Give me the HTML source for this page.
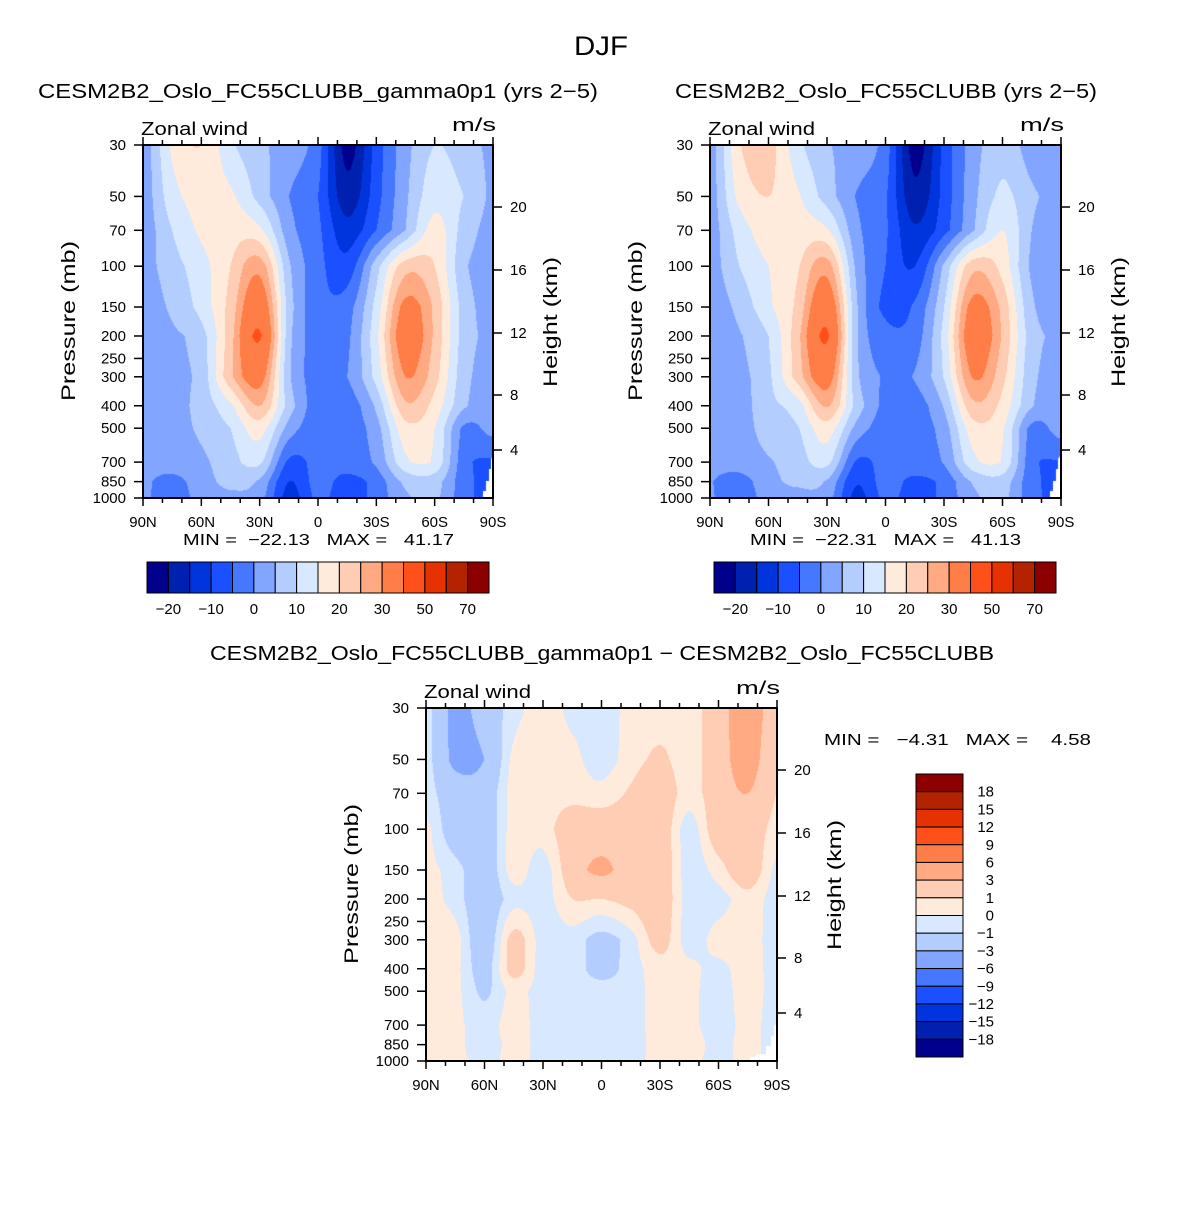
<!DOCTYPE html>
<html><head><meta charset="utf-8"><title>DJF Zonal wind</title>
<style>
body{margin:0;background:#fff}
#wrap{position:relative;width:1204px;height:1206px;overflow:hidden;background:#fff}
canvas{position:absolute}
svg text{font-family:"Liberation Sans",sans-serif;fill:#000}
</style></head>
<body>
<div id="wrap">
<canvas id="cL" width="350" height="353" style="left:143px;top:145px"></canvas>
<canvas id="cR" width="351" height="353" style="left:710px;top:145px"></canvas>
<canvas id="cD" width="351" height="353" style="left:426px;top:708px"></canvas>
<svg id="ov" width="1204" height="1206" style="position:absolute;left:0;top:0">
<text x="601" y="55" font-size="27" text-anchor="middle" textLength="54" lengthAdjust="spacingAndGlyphs">DJF</text>
<text x="38" y="98" font-size="20" textLength="560" lengthAdjust="spacingAndGlyphs">CESM2B2_Oslo_FC55CLUBB_gamma0p1 (yrs 2−5)</text>
<text x="675" y="98" font-size="20" textLength="422" lengthAdjust="spacingAndGlyphs">CESM2B2_Oslo_FC55CLUBB (yrs 2−5)</text>
<text x="210" y="660" font-size="20" textLength="784" lengthAdjust="spacingAndGlyphs">CESM2B2_Oslo_FC55CLUBB_gamma0p1 − CESM2B2_Oslo_FC55CLUBB</text>
<text x="183" y="545" font-size="16" textLength="271" lengthAdjust="spacingAndGlyphs" xml:space="preserve">MIN =  −22.13   MAX =   41.17</text>
<text x="750" y="545" font-size="16" textLength="271" lengthAdjust="spacingAndGlyphs" xml:space="preserve">MIN =  −22.31   MAX =   41.13</text>
<text x="824" y="745" font-size="16" textLength="267" lengthAdjust="spacingAndGlyphs" xml:space="preserve">MIN =   −4.31   MAX =    4.58</text>
</svg>
</div>
<script>
const pLevels=[30,50,70,100,150,200,300,400,500,700,850,1000];
const latLabels=['90N','60N','30N','0','30S','60S','90S'];
const pLabels=[30,50,70,100,150,200,250,300,400,500,700,850,1000];
const hLabels=['20','16','12','8','4'];
const topLevels=[-20,-15,-10,-5,0,5,10,15,20,25,30,40,50,60,70];
const topLevelLabels=['−20','−10','0','10','20','30','50','70'];
const diffLevels=[-18,-15,-12,-9,-6,-3,-1,0,1,3,6,9,12,15,18];
const diffLevelLabels=['18','15','12','9','6','3','1','0','−1','−3','−6','−9','−12','−15','−18'];
const colors=['#00008c','#0020b0','#0034dc','#1a50ff','#4678ff','#82a5ff','#b4cdff','#d7e8ff','#ffebdc','#ffcdb4','#ffaa82','#ff7d46','#ff5019','#e63200','#b42300','#8c0000'];
// rows = pressure levels, cols = 90N..90S every 15 deg
const leftU=[
[2,16,20,11,6,3,-3,-22,-8,3,10,7,4],
[2,13,17,16,8,0,-5,-18,-7,4,13,10,4],
[2,10,16,18,16,2,-4,-13,-5,5,17,8,3],
[3,8,13,20,28,6,-3,-8,8,23,20,6,3],
[2,6,12,22,36,8,-3,-2,12,32,24,8,3],
[2,4,8,23,41,7,-2,-1,14,35,24,8,4],
[2,4,7,24,33,6,-2,0,12,30,22,7,3],
[2,3,7,14,25,8,-3,-3,6,24,18,6,2],
[2,3,6,10,17,3,-3,-3,3,18,15,-1,2],
[2,3,4,8,11,-6,-3,-2,1,14,14,-3,-6],
[1,-2,3,6,4,-10,-3,-7,-3,6,7,-3,-7],
[1,-3,2,4,2,-12,-4,-8,-3,4,6,-3,-7]];
const rightU=[
[2.5,19.5,22,11.5,5.5,3.3,-2.5,-22.3,-8.5,2.5,8,2.5,2.5],
[2.5,16.5,20,15.7,7.5,-0.3,-4.5,-18.5,-8.2,3.5,11,6,3],
[2.5,12,18,17.5,15.5,1.5,-4.3,-14.2,-7,4.5,15,5,2],
[2.7,10,15,19.5,27.5,4,-5,-10,6,23.5,18,4,2.5],
[1.7,6.5,14,21.5,36.5,6,-6.5,-4,10,32.5,23.5,6,3.3],
[1.5,4.5,10,23.5,41.1,6,-3,-2.5,12,35.5,24.5,7.5,4.5],
[1.2,3.5,9,22.5,33.5,6.5,-0.5,0.5,10.5,30.5,21.5,6.5,3.5],
[1.2,2.7,8.5,12.5,25.5,8.5,-1.5,-2.5,5.5,23.7,18.3,5.5,2.5],
[1.2,2.7,7.2,9.7,17.5,3.5,-2.5,-2.5,2.5,17.7,15.5,-1.5,2.5],
[1.2,2.7,4.5,7.5,11.5,-5.5,-2.7,-1.5,0.5,13.7,14.5,-3.3,-5.5],
[0.2,-2.3,3.5,5.7,4.3,-9.5,-2.7,-6.5,-3.5,5.5,7.3,-3.3,-6.5],
[0.5,-3.3,2.3,3.7,2.3,-11.5,-3.7,-7.5,-3.5,3.7,6.3,-3.3,-6.5]];
const diffU=[
[-0.5,-3.5,-2,-0.5,0.5,-0.3,-0.5,0.3,0.5,0.5,2,4.5,1.5],
[-0.5,-3.5,-3,0.3,0.5,0.3,-0.5,0.5,1.2,0.5,2,4,1],
[-0.5,-2,-2,0.5,0.5,0.5,0.3,1.2,2,0.5,2,3,1],
[0.3,-2,-2,0.5,0.5,2,2,2,2,-0.5,2,2,0.5],
[0.3,-0.5,-2,0.5,-0.5,2,3.5,2,2,-0.5,0.5,2,-0.3],
[0.5,-0.5,-2,-0.5,-0.5,1,1,1.5,2,-0.5,-0.5,0.5,-0.5],
[0.8,0.5,-2,1.5,-0.5,-0.5,-1.5,-0.5,1.5,-0.5,0.5,0.5,-0.5],
[0.8,0.3,-1.5,1.5,-0.5,-0.5,-1.5,-0.5,0.5,0.3,-0.3,0.5,-0.5],
[0.8,0.3,-1.2,0.3,-0.5,-0.5,-0.5,-0.5,0.5,0.3,-0.5,0.5,-0.5],
[0.8,0.3,-0.5,0.5,-0.5,-0.5,-0.3,-0.5,0.5,0.3,-0.5,0.3,-0.5],
[0.8,0.3,-0.5,0.3,-0.3,-0.5,-0.3,-0.5,0.5,0.5,-0.3,0.3,-0.5],
[0.5,0.3,-0.3,0.3,-0.3,-0.5,-0.3,-0.5,0.5,0.3,-0.3,0.3,-0.5]];

const NS='http://www.w3.org/2000/svg';
const ov=document.getElementById('ov');
const L0=Math.log(30),L1=Math.log(1000);
function yOfP(p,H){return (Math.log(p)-L0)/(L1-L0)*H;}
function hexRgb(h){return [parseInt(h.substr(1,2),16),parseInt(h.substr(3,2),16),parseInt(h.substr(5,2),16)];}
const rgb=colors.map(hexRgb);
function cr(p0,p1,p2,p3,s){return 0.5*(2*p1+(-p0+p2)*s+(2*p0-5*p1+4*p2-p3)*s*s+(-p0+3*p1-3*p2+p3)*s*s*s);}
function classOf(v,levels){let i=0;while(i<levels.length&&v>=levels[i])i++;return i;}
function drawField(cv,data,levels,mask){
  const W=cv.width,H=cv.height,ctx=cv.getContext('2d');
  const img=ctx.createImageData(W,H);
  const n=data[0].length-1;
  const rows=data.map(r=>{const a=new Float32Array(W);
    for(let x=0;x<W;x++){let fi=(x+0.5)/W*n;let i=Math.min(Math.floor(fi),n-1);let s=fi-i;
      a[x]=cr(r[Math.max(i-1,0)],r[i],r[i+1],r[Math.min(i+2,n)],s);}return a;});
  const lp=pLevels.map(Math.log);
  for(let y=0;y<H;y++){
    const l=L0+(y+0.5)/H*(L1-L0);
    let k=0;while(k<lp.length-2&&l>lp[k+1])k++;
    const t=Math.max(0,Math.min(1,(l-lp[k])/(lp[k+1]-lp[k])));
    for(let x=0;x<W;x++){
      const v=rows[k][x]*(1-t)+rows[k+1][x]*t;
      const c=rgb[classOf(v,levels)];const o=(y*W+x)*4;
      img.data[o]=c[0];img.data[o+1]=c[1];img.data[o+2]=c[2];img.data[o+3]=255;}
  }
  ctx.putImageData(img,0,0);
  ctx.fillStyle='#fff';ctx.beginPath();
  mask.forEach((p,i)=>i?ctx.lineTo(p[0],p[1]):ctx.moveTo(p[0],p[1]));ctx.closePath();ctx.fill();
}
const topMask=[[340,353],[340,346],[343,346],[343,336],[346,336],[346,324],[348,324],[348,314],[351,310],[351,353]];
const diffMask=[[324,353],[324,349],[330,349],[330,346],[340,346],[340,338],[345,338],[345,328],[348,328],[348,318],[351,315],[351,353]];
drawField(document.getElementById('cL'),leftU,topLevels,topMask);
drawField(document.getElementById('cR'),rightU,topLevels,topMask);
drawField(document.getElementById('cD'),diffU,diffLevels,diffMask);

function mk(tag,attrs,parent){const e=document.createElementNS(NS,tag);for(const k in attrs)e.setAttribute(k,attrs[k]);(parent||ov).appendChild(e);return e;}
const hOffsets=[62,125,188,250,305];
function buildAxes(ox,oy,W,H,pre){
  const g=mk('g',{});
  
  
  for(let d=0;d<=180;d+=10){
    const x=ox+d/180*W;const len=(d%30===0)?8:5;
    const t1=mk('line',{x1:x,y1:oy,x2:x,y2:oy-len,stroke:'#000','stroke-width':1.5},g);
    
    
    const t2=mk('line',{x1:x,y1:oy+H,x2:x,y2:oy+H+len,stroke:'#000','stroke-width':1.5},g);
    
    
  }
  latLabels.forEach((lab,i)=>{
    const t=mk('text',{x:ox+i*30/180*W,y:oy+H+29,'font-size':15,'text-anchor':'middle'},g);t.textContent=lab;
    
    
  });
  pLabels.forEach(p=>{
    const y=oy+yOfP(p,H);
    const l=mk('line',{x1:ox-9,y1:y,x2:ox,y2:y,stroke:'#000','stroke-width':1.5},g);
    
    
    const t=mk('text',{x:ox-17,y:y+5,'font-size':15,'text-anchor':'end'},g);t.textContent=p;
    
    
  });
  hLabels.forEach((h,i)=>{
    const y=oy+hOffsets[i];
    const l=mk('line',{x1:ox+W,y1:y,x2:ox+W+9,y2:y,stroke:'#000','stroke-width':1.5},g);
    
    
    const t=mk('text',{x:ox+W+17,y:y+5,'font-size':15},g);t.textContent=h;
    
    
  });
  const b=mk('rect',{x:ox,y:oy,width:W,height:H,fill:'none',stroke:'#000','stroke-width':2},g);
  
  
  const zw=mk('text',{x:ox-2,y:oy-10,'font-size':18,textLength:107,lengthAdjust:'spacingAndGlyphs'},g);zw.textContent='Zonal wind';
  
  
  const ms=mk('text',{x:ox+W-41,y:oy-14,'font-size':18,textLength:44,lengthAdjust:'spacingAndGlyphs'},g);ms.textContent='m/s';
  
  
  const yt=mk('text',{x:0,y:0,'font-size':19,'text-anchor':'middle',textLength:160,lengthAdjust:'spacingAndGlyphs',transform:`translate(${ox-68},${oy+176}) rotate(-90)`},g);yt.textContent='Pressure (mb)';
  
  
  const ht=mk('text',{x:0,y:0,'font-size':19,'text-anchor':'middle',textLength:130,lengthAdjust:'spacingAndGlyphs',transform:`translate(${ox+W+64},${oy+177}) rotate(-90)`},g);ht.textContent='Height (km)';
  
  
}
buildAxes(143,145,350,353,'left');
buildAxes(710,145,351,353,'right');
buildAxes(426,708,351,353,'diff');

function hBar(x0,pre){
  const g=mk('g',{});
  
  
  const w=342/16;
  colors.forEach((c,i)=>{
    const r=mk('rect',{x:x0+i*w,y:562,width:w,height:31,fill:c,stroke:'#000','stroke-width':1},g);
    
    
  });
  topLevelLabels.forEach((lab,i)=>{
    const t=mk('text',{x:x0+(2*i+1)*w,y:614,'font-size':15,'text-anchor':'middle'},g);t.textContent=lab;
    
    
  });
}
hBar(147,'left');hBar(714,'right');
(function(){
  const g=mk('g',{});
  
  
  const h=283/16;
  for(let i=0;i<16;i++){
    const r=mk('rect',{x:916,y:774+i*h,width:47,height:h,fill:colors[15-i],stroke:'#000','stroke-width':1},g);
    
    
  }
  diffLevelLabels.forEach((lab,i)=>{
    const t=mk('text',{x:994,y:774+(i+1)*h+5,'font-size':15,'text-anchor':'end'},g);t.textContent=lab;
    
    
  });
})();
</script>
</body></html>
